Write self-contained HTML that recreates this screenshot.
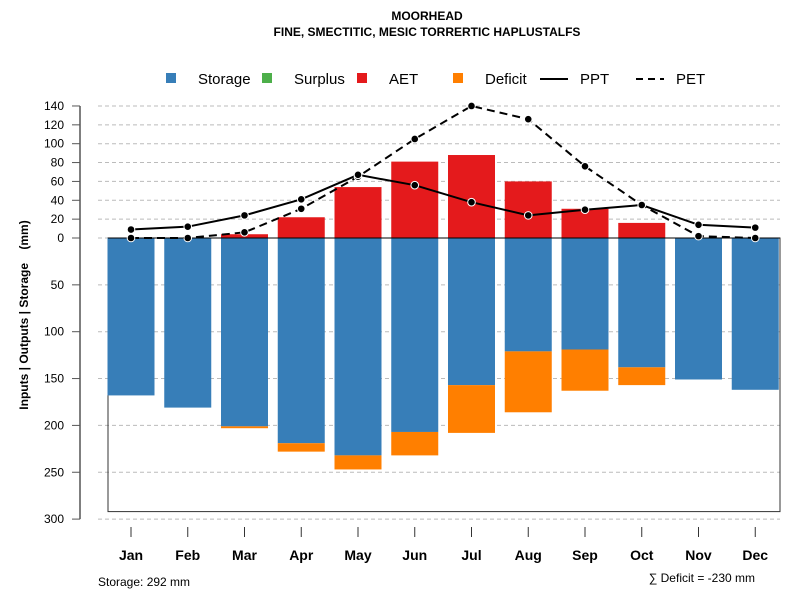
<!DOCTYPE html>
<html><head><meta charset="utf-8"><style>
body{margin:0;background:#fff}
svg{font-family:"Liberation Sans",sans-serif}
</style></head><body>
<svg id="c" width="800" height="600">
<text x="427" y="20" text-anchor="middle" font-size="12" font-weight="bold">MOORHEAD</text>
<text x="427" y="36" text-anchor="middle" font-size="12" font-weight="bold">FINE, SMECTITIC, MESIC TORRERTIC HAPLUSTALFS</text>
<g id="legend" font-size="15">
<rect x="166" y="73" width="10" height="10" fill="#377EB8"/>
<text x="198" y="84">Storage</text>
<rect x="262" y="73" width="10" height="10" fill="#4DAF4A"/>
<text x="294" y="84">Surplus</text>
<rect x="357" y="73" width="10" height="10" fill="#E41A1C"/>
<text x="389" y="84">AET</text>
<rect x="453" y="73" width="10" height="10" fill="#FF7F00"/>
<text x="485" y="84">Deficit</text>
<line x1="540" y1="79" x2="568" y2="79" stroke="#000" stroke-width="2"/>
<text x="580" y="84">PPT</text>
<line x1="636" y1="79" x2="664" y2="79" stroke="#000" stroke-width="2" stroke-dasharray="7,5"/>
<text x="676" y="84">PET</text>
</g>
<text transform="translate(28,315) rotate(-90)" text-anchor="middle" font-size="12" font-weight="bold">Inputs | Outputs | Storage &#160;&#160;&#160;(mm)</text>
<text x="98" y="586" font-size="12">Storage: 292 mm</text>
<text x="755" y="582" text-anchor="end" font-size="12">∑ Deficit = -230 mm</text>
<g id="g"></g>
</svg>
<script>
const months=["Jan","Feb","Mar","Apr","May","Jun","Jul","Aug","Sep","Oct","Nov","Dec"];
const storage=[168,181,201,219,232,207,157,121,119,138,151,162];
const deficit=[0,0,2,9,15,25,51,65,44,19,0,0];
const aet=[0,0,4,22,54,81,88,60,31,16,0,0];
const ppt=[9,12,24,41,67,56,38,24,30,35,14,11];
const pet=[0,0,6,31,65,105,140,126,76,35,2,0];
const posTicks=[0,20,40,60,80,100,120,140];
const negTicks=[50,100,150,200,250,300];
const maxStorage=292;
const NS="http://www.w3.org/2000/svg";
const g=document.getElementById("g");
function mk(t,a,p){const e=document.createElementNS(NS,t);for(const k in a)e.setAttribute(k,a[k]);(p||g).appendChild(e);return e;}
const y=v=>238-v*0.943;
const yn=v=>238+v*0.937;
const x=i=>131+i*56.75;
const bw=47;
// grid + ticks
posTicks.forEach(t=>{
 const l=mk("line",{x1:98,x2:780,y1:y(t),y2:y(t),stroke:"#bbb","stroke-dasharray":"4,3"});
 
 const k=mk("line",{x1:72,x2:80,y1:y(t),y2:y(t),stroke:"#555"});
 
 const s=mk("text",{x:64,y:y(t)+4,"text-anchor":"end","font-size":12});s.textContent=t;
 
});
negTicks.forEach(t=>{
 const l=mk("line",{x1:98,x2:780,y1:yn(t),y2:yn(t),stroke:"#bbb","stroke-dasharray":"4,3"});
 
 const k=mk("line",{x1:72,x2:80,y1:yn(t),y2:yn(t),stroke:"#555"});
 
 const s=mk("text",{x:64,y:yn(t)+4,"text-anchor":"end","font-size":12});s.textContent=t;
 
});
const ax=mk("line",{x1:80,x2:80,y1:y(140),y2:yn(300),stroke:"#555","stroke-width":1.5});

const box=mk("rect",{x:108,y:238,width:672,height:maxStorage*0.937,fill:"none",stroke:"#333"});

months.forEach((m,i)=>{
 const cx=x(i);
 const s=mk("rect",{x:cx-bw/2,y:238,width:bw,height:storage[i]*0.937,fill:"#377EB8"});
 
 if(deficit[i]>0){const d=mk("rect",{x:cx-bw/2,y:yn(storage[i]),width:bw,height:deficit[i]*0.937,fill:"#FF7F00"});
 }
 if(aet[i]>0){const a=mk("rect",{x:cx-bw/2,y:y(aet[i]),width:bw,height:aet[i]*0.943,fill:"#E41A1C"});
 }
 const k=mk("line",{x1:cx,x2:cx,y1:527,y2:537,stroke:"#333"});
 
 const t=mk("text",{x:cx,y:560,"text-anchor":"middle","font-size":14,"font-weight":"bold"});t.textContent=m;
 
});
const zl=mk("line",{x1:108,x2:780,y1:238,y2:238,stroke:"#000"});

const pl=mk("polyline",{points:pet.map((v,i)=>x(i)+","+y(v)).join(" "),fill:"none",stroke:"#000","stroke-width":2,"stroke-dasharray":"8,5"});

const pp=mk("polyline",{points:ppt.map((v,i)=>x(i)+","+y(v)).join(" "),fill:"none",stroke:"#000","stroke-width":2});

pet.forEach((v,i)=>{const c=mk("circle",{cx:x(i),cy:y(v),r:3.8,fill:"#000",stroke:"#fff","stroke-width":1});
 });
ppt.forEach((v,i)=>{const c=mk("circle",{cx:x(i),cy:y(v),r:3.8,fill:"#000",stroke:"#fff","stroke-width":1});
 });
</script>
</body></html>
